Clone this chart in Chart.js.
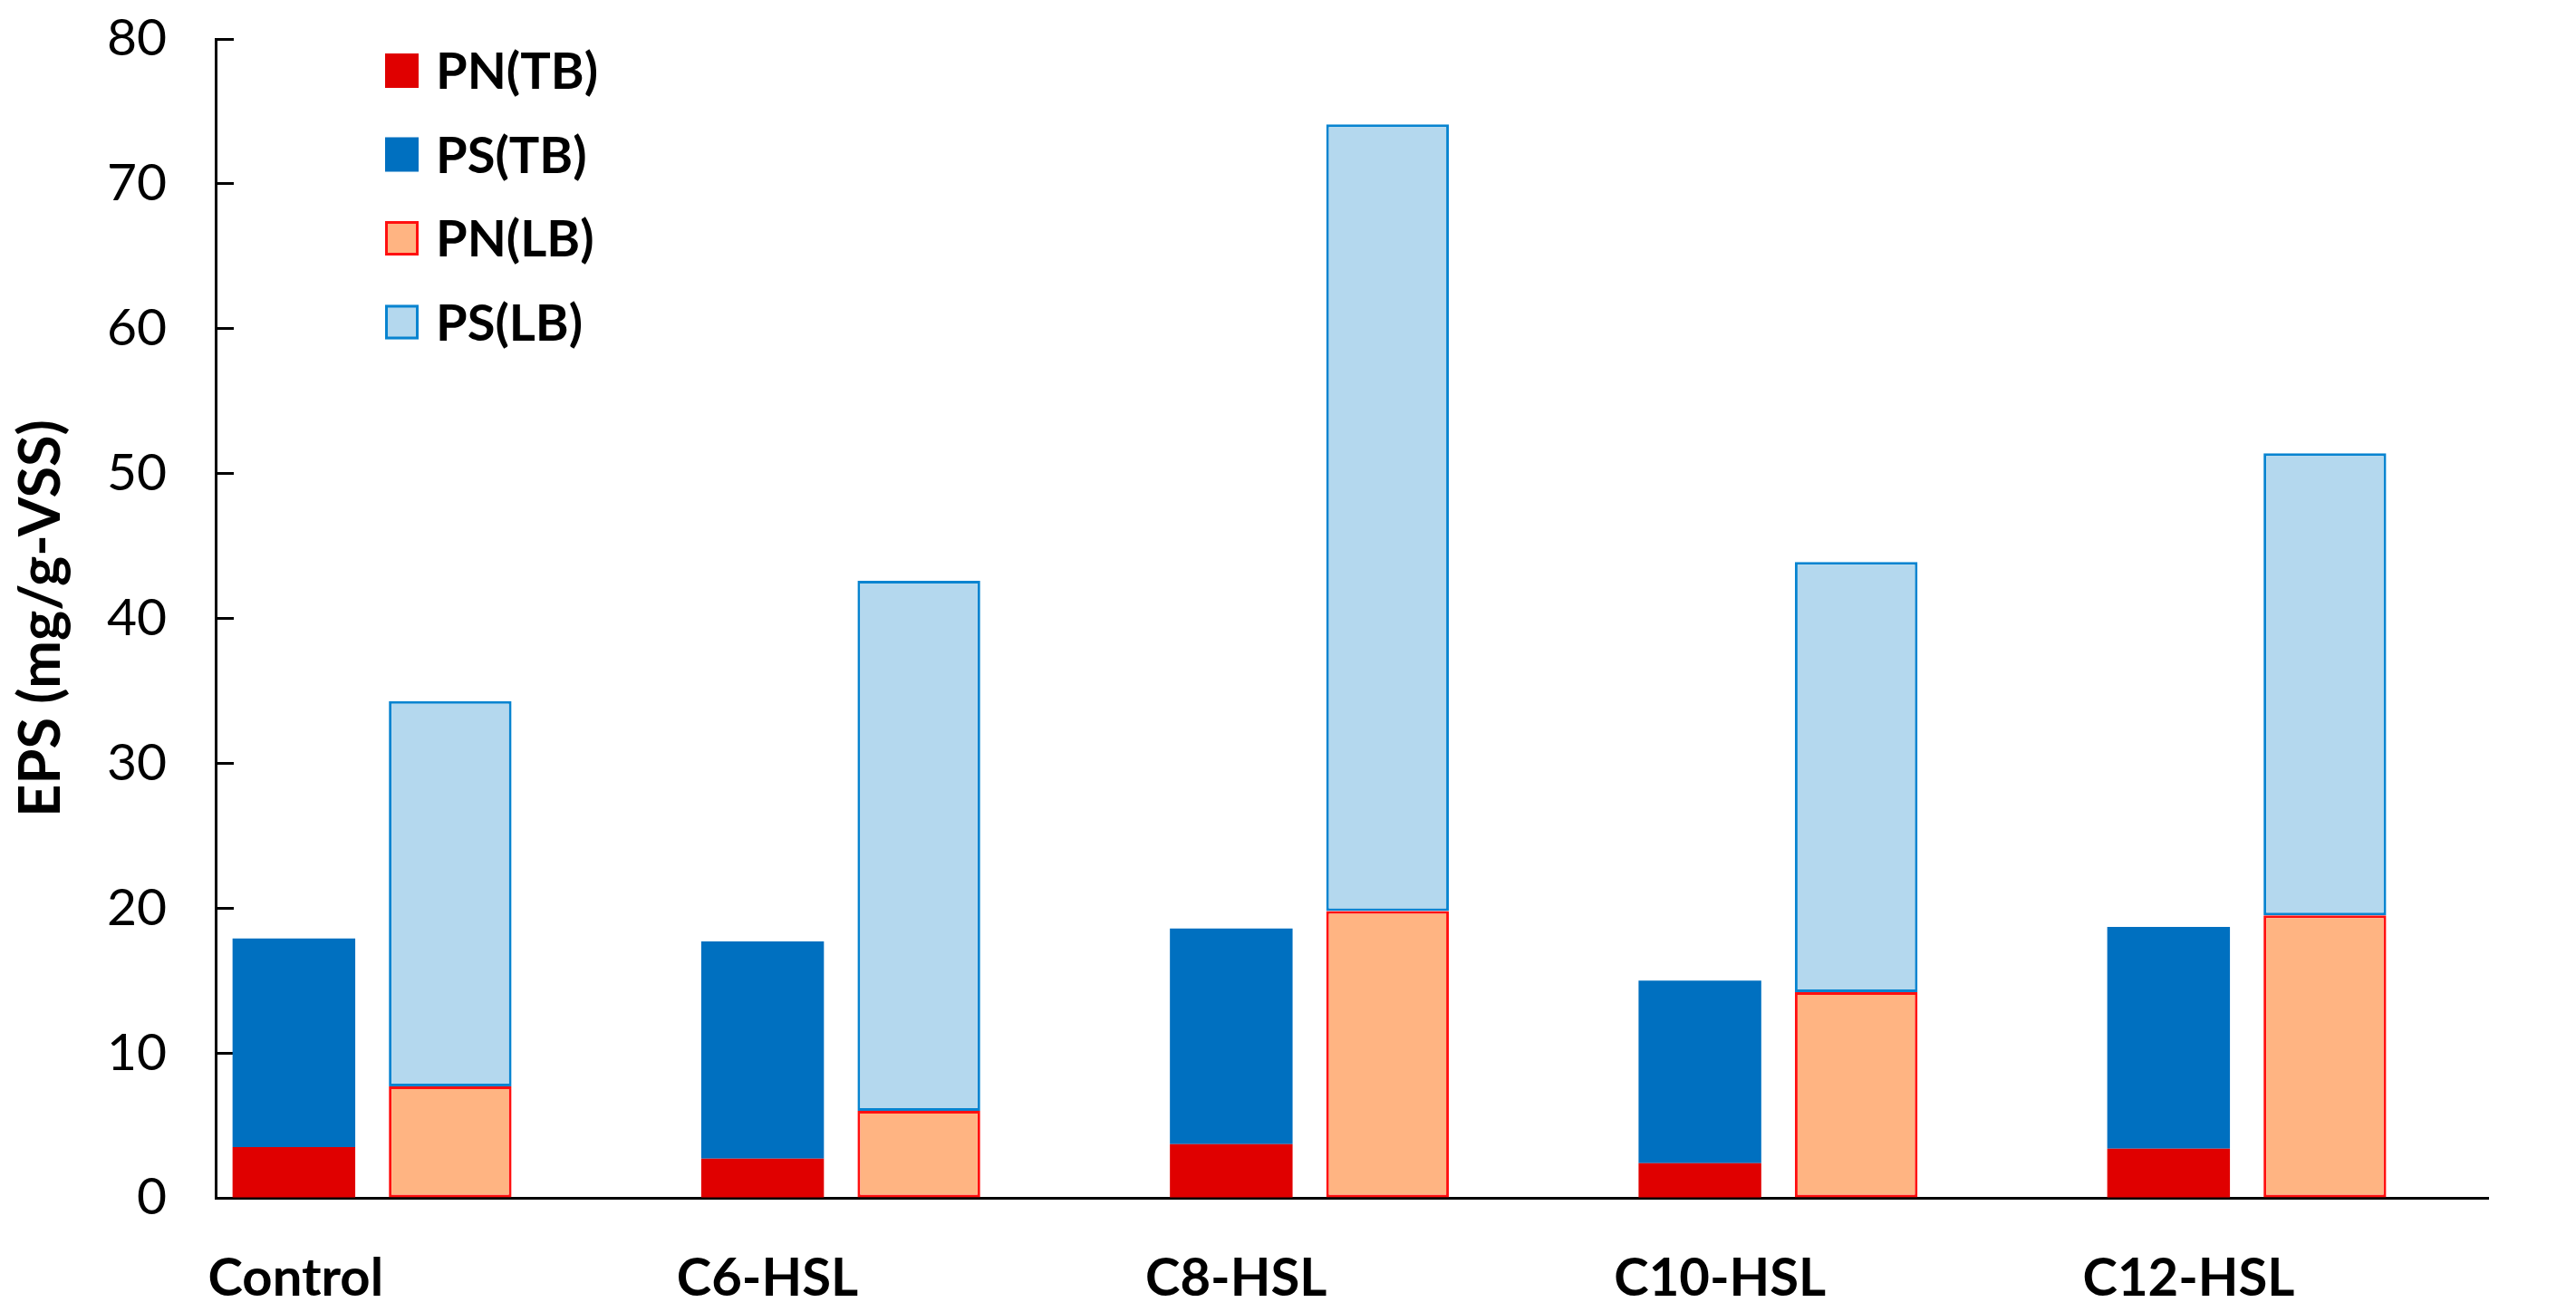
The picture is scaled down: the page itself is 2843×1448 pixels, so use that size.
<!DOCTYPE html>
<html lang="en">
<head>
    <meta charset="UTF-8">
    <title>EPS stacked bars</title>
    <script src="https://cdn.jsdelivr.net/npm/chart.js"></script>
    <style>
        body { margin: 0; background: #fff; }
        #wrap { width: 2843px; height: 1448px; }
    </style>
</head>
<body>
<div id="wrap">
    <canvas id="chartCanvas" width="2843" height="1448"></canvas>
</div>

<script>
    // data (mg/g-VSS)
    const categories = ['Control', 'C6-HSL', 'C8-HSL', 'C10-HSL', 'C12-HSL'];
    const pnTB = [3.5, 2.7, 3.7, 2.4, 3.4];
    const psTB = [14.4, 15.0, 14.9, 12.6, 15.3];
    const pnLB = [7.7, 6.0, 19.8, 14.2, 19.5];
    const psLB = [26.6, 36.6, 54.3, 29.7, 31.9];
    const yTicks = [0, 10, 20, 30, 40, 50, 60, 70, 80];

    const FONT = 'Lato, "Open Sans", sans-serif';

    // legend drawn top-left inside the plot, one row per dataset
    const legendBox = {
        id: 'legendBox',
        afterDraw(chart) {
            const ctx = chart.ctx;
            ctx.save();
            chart.data.datasets.forEach((ds, i) => {
                const cy = 78 + i * 92.5;
                const x = 425, w = 37, h = 38;
                ctx.fillStyle = ds.backgroundColor;
                ctx.fillRect(x, cy - h / 2, w, h);
                if (ds.borderWidth > 0) {
                    ctx.strokeStyle = ds.borderColor;
                    ctx.lineWidth = 3;
                    ctx.strokeRect(x + 1.5, cy - h / 2 + 1.5, w - 3, h - 3);
                }
                ctx.fillStyle = '#000';
                ctx.font = 'bold 56px ' + FONT;
                ctx.textBaseline = 'middle';
                ctx.textAlign = 'left';
                ctx.fillText(ds.label, 481, cy + 2);
            });
            ctx.restore();
        }
    };

    const chart = new Chart(document.getElementById('chartCanvas'), {
        type: 'bar',
        data: {
            labels: categories.map((c, i) => i),
            datasets: [
                { label: 'PN(TB)', data: pnTB, stack: 'TB', backgroundColor: '#E00000', borderColor: '#E00000', borderWidth: 0 },
                { label: 'PS(TB)', data: psTB, stack: 'TB', backgroundColor: '#0070C0', borderColor: '#0070C0', borderWidth: 0 },
                { label: 'PN(LB)', data: pnLB, stack: 'LB', backgroundColor: '#FFB482', borderColor: '#FF1010', borderWidth: 3, borderSkipped: false },
                { label: 'PS(LB)', data: psLB, stack: 'LB', backgroundColor: '#B4D8EE', borderColor: '#0884D0', borderWidth: 3, borderSkipped: false }
            ]
        },
        options: {
            responsive: false,
            animation: false,
            categoryPercentage: 0.667,
            barPercentage: 0.785,
            layout: { padding: { top: 43, right: 97, left: 0, bottom: 0 } },
            plugins: {
                legend: { display: false },
                tooltip: { enabled: false }
            },
            scales: {
                x: {
                    type: 'linear',
                    offset: false,
                    min: -0.3337,
                    max: 4.515,
                    grid: { display: false, offset: false },
                    border: { display: true, color: '#000', width: 3 },
                    afterBuildTicks: (scale) => {
                        scale.ticks = categories.map((c, i) => ({ value: i - 0.35 }));
                    },
                    afterFit: (scale) => {
                        scale.height = 126;
                        scale.paddingLeft = 0;
                        scale.paddingRight = 0;
                    },
                    ticks: {
                        autoSkip: false,
                        maxRotation: 0,
                        align: 'start',
                        padding: 46,
                        color: '#000',
                        font: { family: FONT, size: 58, weight: 'bold' },
                        callback: (value, index) => categories[index]
                    }
                },
                y: {
                    stacked: true,
                    min: 0,
                    max: 80,
                    afterBuildTicks: (scale) => {
                        scale.ticks = yTicks.map(v => ({ value: v }));
                    },
                    afterFit: (scale) => {
                        scale.width = 238;
                        scale.paddingTop = 0;
                        scale.paddingBottom = 0;
                    },
                    grid: {
                        drawOnChartArea: false,
                        drawTicks: true,
                        tickLength: -20,
                        tickWidth: 3,
                        tickColor: '#000'
                    },
                    border: { display: true, color: '#000', width: 3 },
                    ticks: {
                        padding: 74,
                        color: '#000',
                        font: { family: FONT, size: 57 }
                    },
                    title: {
                        display: true,
                        text: 'EPS (mg/g-VSS)',
                        color: '#000',
                        padding: { top: 8, bottom: 0 },
                        font: { family: FONT, size: 63, weight: 'bold' }
                    }
                }
            }
        },
        plugins: [legendBox]
    });
</script>
</body>
</html>
